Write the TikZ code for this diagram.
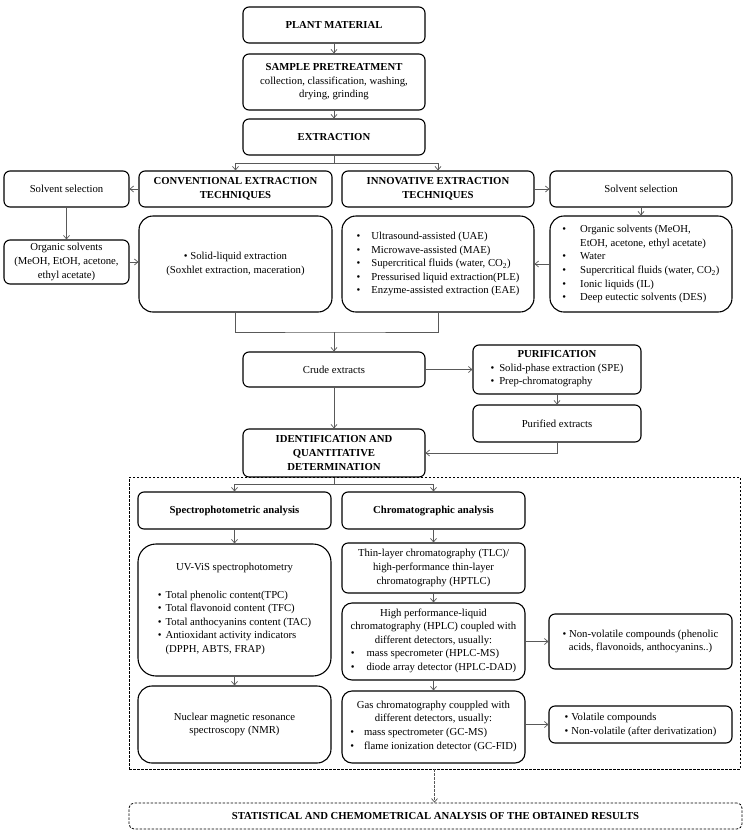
\documentclass[tikz,border=0pt]{standalone}
\usepackage{fontspec}
\setmainfont{Liberation Serif}
\usetikzlibrary{arrows.meta}

\newcommand{\bulletlist}[2]{\begin{tabular}[t]{@{}l@{\hspace{#1}}l@{}}#2\end{tabular}}

\begin{document}
\begin{tikzpicture}[
    x=1pt, y=-1pt,
    flowbox/.style={
      rectangle,
      draw=black,
      line width=1.1pt,
      rounded corners=6pt,
      inner sep=2pt,
      align=center,
      font=\fontsize{10.7}{13.6}\selectfont
    },
    bigbox/.style={
      flowbox,
      rounded corners=14pt
    },
    conn/.style={
      draw=black!65,
      line width=0.7pt
    },
    connarrow/.style={
      conn,
      -{Straight Barb[length=3.5pt,width=6pt]}
    },
    dashframe/.style={
      draw=black,
      line width=0.8pt,
      dash pattern=on 2.5pt off 1.5pt
    }
  ]

    \useasboundingbox (0,0) rectangle (747,836);

    % Main column
    \node[flowbox, minimum width=182pt, minimum height=36pt] (plant) at (334,25) {\textbf{PLANT MATERIAL}};
    \node[flowbox, minimum width=182pt, minimum height=56pt] (pretreat) at (334,82) {\textbf{SAMPLE PRETREATMENT}\\collection, classification, washing,\\drying, grinding};
    \node[flowbox, minimum width=182pt, minimum height=36pt] (extraction) at (334,137) {\textbf{EXTRACTION}};

    % Extraction techniques
    \node[flowbox, minimum width=125pt, minimum height=36pt] (solventL) at (66.5,189) {Solvent selection};
    \node[flowbox, minimum width=193pt, minimum height=36pt] (conventional) at (235.5,189) {\textbf{CONVENTIONAL EXTRACTION}\\\textbf{TECHNIQUES}};
    \node[flowbox, minimum width=192pt, minimum height=36pt] (innovative) at (438,189) {\textbf{INNOVATIVE EXTRACTION}\\\textbf{TECHNIQUES}};
    \node[flowbox, minimum width=182pt, minimum height=36pt] (solventR) at (641,189) {Solvent selection};

    \node[flowbox, minimum width=125pt, minimum height=44pt] (organic) at (66.5,262) {Organic solvents\\(MeOH, EtOH, acetone,\\ethyl acetate)};
    \node[bigbox, minimum width=193pt, minimum height=96pt] (solid) at (235.5,264) {\textbullet\ Solid-liquid extraction\\(Soxhlet extraction, maceration)};
    \node[bigbox, minimum width=192pt, minimum height=96pt] (innolist) at (438,264) {\bulletlist{11pt}{%
      \textbullet & Ultrasound-assisted (UAE)\\
      \textbullet & Microwave-assisted (MAE)\\
      \textbullet & Supercritical fluids (water, CO\textsubscript{2})\\
      \textbullet & Pressurised liquid extraction(PLE)\\
      \textbullet & Enzyme-assisted extraction (EAE)}};
    \node[bigbox, minimum width=182pt, minimum height=96pt] (solventlist) at (641,264) {\bulletlist{14pt}{%
      \textbullet & Organic solvents (MeOH,\\
                  & EtOH, acetone, ethyl acetate)\\
      \textbullet & Water\\
      \textbullet & Supercritical fluids (water, CO\textsubscript{2})\\
      \textbullet & Ionic liquids (IL)\\
      \textbullet & Deep eutectic solvents (DES)}};

    % Extracts and purification
    \node[flowbox, minimum width=182pt, minimum height=35pt] (crude) at (334,369.5) {Crude extracts};
    \node[flowbox, minimum width=168pt, minimum height=49pt] (purification) at (557,369.5) {\textbf{PURIFICATION}\\\bulletlist{5pt}{%
      \textbullet & Solid-phase extraction (SPE)\\
      \textbullet & Prep-chromatography}};
    \node[flowbox, minimum width=168pt, minimum height=37pt] (purified) at (557,423.5) {Purified extracts};
    \node[flowbox, minimum width=182pt, minimum height=48pt] (identification) at (334,453) {\textbf{IDENTIFICATION AND}\\\textbf{QUANTITATIVE}\\\textbf{DETERMINATION}};

    % Analysis frame
    \node[dashframe, rectangle, minimum width=611pt, minimum height=292pt, inner sep=0pt] (analysis) at (434.5,623) {};

    \node[flowbox, minimum width=193pt, minimum height=37pt] (spectro) at (234.5,510.5) {\textbf{Spectrophotometric analysis}};
    \node[flowbox, minimum width=183pt, minimum height=37pt] (chromato) at (433.5,510.5) {\textbf{Chromatographic analysis}};
    \node[bigbox, rounded corners=18pt, minimum width=193pt, minimum height=132pt] (uvvis) at (234.5,610) {UV-ViS spectrophotometry\\[13.6pt]\bulletlist{4pt}{%
      \textbullet & Total phenolic content(TPC)\\
      \textbullet & Total flavonoid content (TFC)\\
      \textbullet & Total anthocyanins content (TAC)\\
      \textbullet & Antioxidant activity indicators\\
                  & (DPPH, ABTS, FRAP)}};
    \node[bigbox, minimum width=193pt, minimum height=77pt] (nmr) at (234.5,724.5) {Nuclear magnetic resonance\\spectroscopy (NMR)};
    \node[flowbox, minimum width=183pt, minimum height=50pt] (tlc) at (433.5,568) {Thin-layer chromatography (TLC)/\\high-performance thin-layer\\chromatography (HPTLC)};
    \node[flowbox, rounded corners=10pt, minimum width=183pt, minimum height=77pt] (hplc) at (433.5,641.5) {High performance-liquid\\chromatography (HPLC) coupled with\\different detectors, usually:\\\bulletlist{12pt}{%
      \textbullet & mass specrometer (HPLC-MS)\\
      \textbullet & diode array detector (HPLC-DAD)}};
    \node[flowbox, rounded corners=10pt, minimum width=183pt, minimum height=72pt] (gc) at (433.5,727) {Gas chromatography couppled with\\different detectors, usually:\\\bulletlist{10pt}{%
      \textbullet & mass spectrometer (GC-MS)\\
      \textbullet & flame ionization detector (GC-FID)}};
    \node[flowbox, minimum width=183pt, minimum height=55pt] (nonvolatile) at (640.5,641.5) {\textbullet\ Non-volatile compounds (phenolic\\acids, flavonoids, anthocyanins..)};
    \node[flowbox, minimum width=183pt, minimum height=37pt] (volatile) at (640.5,724.5) {\bulletlist{3pt}{%
      \textbullet & Volatile compounds\\
      \textbullet & Non-volatile (after derivatization)}};

    % Results
    \node[flowbox, dashframe, rounded corners=5pt, minimum width=613pt, minimum height=26pt] (results) at (435.5,816) {\textbf{STATISTICAL AND CHEMOMETRICAL ANALYSIS OF THE OBTAINED RESULTS}};

    % Connectors
    \draw[connarrow] (plant) -- (pretreat);
    \draw[connarrow] (pretreat) -- (extraction);
    \draw[conn] (extraction.south) -- ++(0,8) coordinate (split1);
    \draw[connarrow] (split1) -| (conventional.north);
    \draw[connarrow] (split1) -| (innovative.north);
    \draw[connarrow] (conventional) -- (solventL);
    \draw[connarrow] (solventL) -- (organic);
    \draw[connarrow] (organic.east) -- (organic.east -| solid.west);
    \draw[connarrow] (innovative) -- (solventR);
    \draw[connarrow] (solventR) -- (solventlist);
    \draw[connarrow] (solventlist) -- (innolist);
    \coordinate (join) at (334,332);
    \draw[conn] (solid.south) |- (join) -| (innolist.south);
    \draw[connarrow] (join) -- (crude);
    \draw[connarrow] (crude) -- (purification);
    \draw[connarrow] (purification) -- (purified);
    \draw[connarrow] (purified.south) |- (identification.east);
    \draw[connarrow] (crude) -- (identification);
    \draw[conn] (identification.south) -- ++(0,7) coordinate (split2);
    \draw[connarrow] (split2) -| (spectro.north);
    \draw[connarrow] (split2) -| (chromato.north);
    \draw[connarrow] (spectro) -- (uvvis);
    \draw[connarrow] (uvvis) -- (nmr);
    \draw[connarrow] (chromato) -- (tlc);
    \draw[connarrow] (tlc) -- (hplc);
    \draw[connarrow] (hplc) -- (gc);
    \draw[connarrow] (hplc) -- (nonvolatile);
    \draw[connarrow] (gc.east |- volatile) -- (volatile);
    \draw[connarrow, dash pattern=on 2.5pt off 1.5pt] (analysis.south) -- (analysis.south |- results.north);

  \end{tikzpicture}
\end{document}
